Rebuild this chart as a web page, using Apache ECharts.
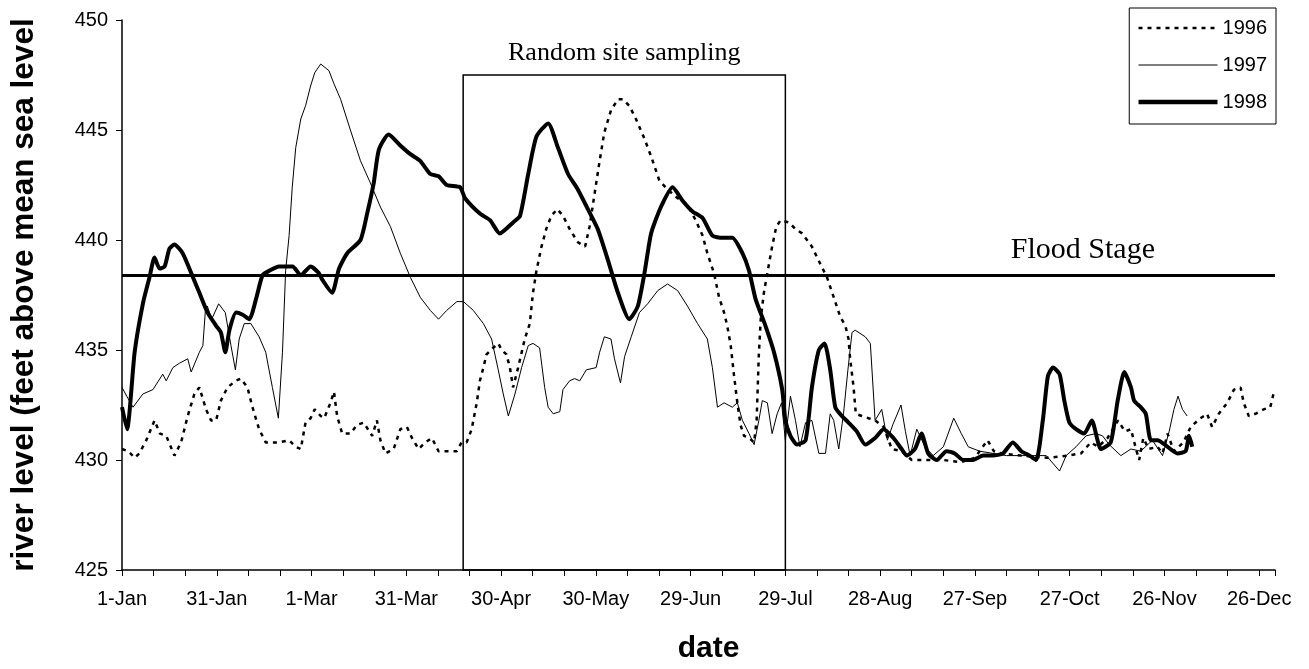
<!DOCTYPE html>
<html>
<head>
<meta charset="utf-8">
<title>River level</title>
<script src="https://cdn.jsdelivr.net/npm/echarts@6/dist/echarts.min.js"></script>
<style>
  html, body { margin: 0; padding: 0; background: #fff; }
  #chart { width: 1309px; height: 669px; }
</style>
</head>
<body>
<div id="chart"></div>
<script>
// day of year (0 = 1-Jan) vs river level
const level1996 = [
  [0,430.5],[2,430.4],[4,430.1],[5.5,430.3],[7.7,430.9],[10.3,431.8],[12,431.2],[14,431.1],[16.6,430.2],[18.7,430.8],
  [20.8,432],[22.9,433],[24.5,433.3],[26.6,432.3],[28.2,431.8],[29.8,431.8],[31.3,432.7],[33.4,433.3],[36,433.6],[37.6,433.7],
  [39.7,433.3],[41.3,432.4],[43.4,431.4],[45.5,430.8],[49.7,430.8],[52.9,430.9],[55,430.6],[56.6,430.5],[58.1,431.7],[59.7,431.9],
  [61,432.3],[62.9,432],[64,431.9],[66,432.6],[67.1,433.1],[68.1,432],[69.7,431.2],[72.3,431.2],[74.4,431.6],[76.5,431.7],
  [79.2,431.1],[80.7,431.8],[81.8,430.9],[83.4,430.3],[86,430.5],[88.1,431.4],[90.2,431.5],[91.8,431],[93.9,430.5],[96,430.8],
  [98.1,431],[100.2,430.4],[106,430.4],[107.5,430.8],[109.1,430.8],[110.7,431.4],[112.3,432.6],[113.3,433.6],[114.4,434.2],[115.4,434.8],
  [117.5,435.1],[119.1,435.3],[120.2,435],[121.7,434.8],[122.8,434.2],[123.8,433.3],[125.4,434.2],[127.5,435.5],[129.1,436.2],[130.1,437.6],
  [131.2,438.6],[132.8,439.7],[134.3,440.5],[135.9,441.1],[137.8,441.4],[139.6,441.1],[141.7,440.5],[144.3,439.9],[146.6,439.7],[148,440.6],
  [149.6,442.1],[151.2,443.6],[152.7,444.9],[154.8,445.9],[157,446.4],[158.5,446.4],[160.6,446.1],[162.7,445.5],[165.4,444.6],[167.5,443.8],
  [170.1,442.7],[172.7,442.3],[175.9,441.9],[179,441.6],[181.6,440.9],[183.8,440.2],[185.3,439.4],[187.4,438.5],[189,437.4],[190.6,436.7],
  [191.6,436.1],[192.7,435.2],[193.7,433.9],[194.8,432.6],[195.8,431.6],[196.9,431.1],[198.5,431],[200.1,430.8],[200.9,431.8],[201.6,434.8],
  [202.2,436.4],[203.2,437.6],[204.3,438.5],[205.8,439.7],[207.1,440.6],[208.5,440.9],[211.1,440.8],[213.2,440.5],[215.3,440.3],[218.4,439.7],
  [221.1,438.9],[223.2,438.3],[225.3,437.4],[227.4,436.5],[229,436.1],[230,435.5],[230.5,434.6],[231.6,433.3],[232.3,432.1],[234.2,432],
  [236.3,431.9],[238.4,431.8],[241.1,431.5],[243.7,430.5],[246.8,430.4],[250,430],[255,430],[260,430],[265.5,429.9],[270,430.1],
  [274,430.9],[276,430.4],[278.4,430.3],[284.6,430.2],[293,430.1],[299.4,430.2],[303.6,430.3],[306.7,430.8],[309,430.6],[312,431],
  [315.3,431.8],[317.5,431.3],[319.4,431.4],[321,430.5],[322,430],[323.3,431],[325,430.5],[327.8,430.6],[329.4,430.3],[331,431.2],
  [333,430.4],[336,430.8],[338.3,431.5],[341.4,431.9],[343.5,432.1],[345.1,431.5],[347.2,432.1],[349.9,432.6],[352,433.2],[354.1,433.3],
  [355.1,432.6],[356.7,432],[358.8,432.1],[361.4,432.3],[363.5,432.4],[364.5,433]
];

const level1997 = [
  [0,433.3],[1.5,432.9],[3.5,432.4],[6.6,433],[9.8,433.2],[12.9,433.9],[14,433.6],[16.1,434.2],[18.2,434.4],[20.8,434.6],
  [21.9,434],[24.5,434.9],[25.6,435.2],[26.4,436.8],[27,437],[28.4,436.4],[30.6,437.1],[32.7,436.7],[34.5,435.2],[35.9,434.1],
  [37.1,435.5],[38.7,436.2],[40.8,436.2],[43.4,435.6],[45.5,434.9],[47.6,433.3],[49.5,431.9],[50.8,434.9],[51.8,438.6],[52.9,440.2],
  [53.9,442.4],[55,444.2],[56.6,445.5],[58.1,446.1],[59.7,447],[61,447.6],[62.9,448],[65.5,447.7],[67.1,447.1],[69.2,446.4],
  [72.3,445],[75.5,443.6],[78.6,442.6],[81.8,441.5],[85,440.6],[88.1,439.4],[91.3,438.3],[94.4,437.4],[97.6,436.8],[100.2,436.4],
  [102.8,436.8],[106,437.2],[108.1,437.2],[111.2,436.8],[114.4,436.2],[117,435.5],[119.1,434.1],[120.7,433],[122.3,432],[124.4,433],
  [126.5,434.2],[128.6,435.2],[130.1,435.3],[132.2,435.1],[133.8,433.3],[134.9,432.4],[136.5,432.1],[138.6,432.2],[139.6,433.2],[141.7,433.6],
  [143.3,433.7],[144.9,433.6],[147,434.1],[150.1,434.2],[151.2,434.9],[152.7,435.6],[154.8,435.5],[155.9,434.6],[157.8,433.5],[159.1,434.7],
  [161.2,435.6],[163.8,436.7],[166.4,437.1],[169.6,437.7],[172.7,438],[175.9,437.7],[179,437],[182.2,436.2],[185.3,435.5],[186.9,434.2],
  [188.5,432.4],[190.6,432.6],[193.2,432.4],[194.8,432.6],[196.4,431.8],[198.5,431.2],[200.1,430.7],[201.6,431.8],[202.7,432.7],[204.3,432.6],
  [205.8,431.2],[207.4,432.1],[208.8,432.6],[210,430.9],[211.6,432.9],[213.2,431.8],[214.6,430.6],[216.4,431.7],[218.4,431.8],[220.6,430.3],
  [222.7,430.3],[224.2,432.1],[225.3,431.8],[226.9,430.5],[228.4,432.1],[229.8,434.1],[231.1,435.8],[232.1,435.9],[235.3,435.6],[236.9,435.3],
  [238.4,431.8],[240.5,432.3],[242.3,430.9],[244,431.6],[246.6,432.5],[248,431.3],[249.5,430.2],[251.6,431.4],[254.2,430.6],[256.8,430.2],
  [260,430.6],[263.3,431.9],[265.7,431.2],[267.9,430.6],[271.5,430.4],[275.7,430.3],[280,430.2],[285.2,430.2],[289,430.2],[292.6,430.2],
  [296.8,429.5],[298.9,430.2],[302,430.6],[305.2,431.1],[308.3,431.2],[310.4,431.1],[312.5,430.7],[316.2,430.2],[319.4,430.5],[322.5,430.4],
  [326.2,430.9],[329.4,430.2],[331.5,431.3],[333,432.3],[334.3,432.9],[335.7,432.3],[337.2,432]
];

const level1998 = [
  [0,432.4],[1.6,431.4],[4,434.9],[6.6,437.1],[8.7,438.3],[10.3,439.2],[11.9,438.7],[13.5,438.8],[15,439.6],[16.6,439.8],
  [19.2,439.4],[21.9,438.5],[24.5,437.6],[27.1,436.7],[29.8,436.1],[31.3,435.8],[32.7,434.9],[34,435.9],[36.1,436.7],[38.2,436.6],
  [40.3,436.4],[42.4,437.3],[44.5,438.4],[46.6,438.6],[49.7,438.8],[54,438.8],[56.6,438.4],[59.7,438.8],[62.3,438.5],[63.4,438.2],
  [66.5,437.6],[68.7,438.7],[71.3,439.4],[75.5,440],[77.6,441.2],[79.7,442.6],[81.3,444.1],[84.4,444.8],[88.1,444.3],[91.3,443.9],
  [94.4,443.6],[97.6,443],[100.2,442.9],[102.8,442.5],[107,442.4],[108.6,441.9],[113.3,441.2],[116.5,440.9],[119.6,440.3],[123.8,440.8],
  [126,441.1],[128.6,443],[131.2,444.7],[134.9,445.3],[138,444.2],[141.2,443],[144.3,442.3],[147.5,441.4],[150.6,440.5],[153.8,439.1],
  [157,437.6],[160.6,436.4],[163.3,437],[165.4,438.5],[167.5,440.3],[170.6,441.5],[174.3,442.4],[177.4,441.8],[180.6,441.3],[183.8,441],
  [186.9,440.2],[190.1,440.1],[193.2,440.1],[196.4,439.4],[198.5,438.6],[200.6,437.3],[203.7,436.1],[206.4,434.9],[209,433.2],[210,431.8],
  [211.6,431.1],[213.7,430.7],[216.4,430.9],[218.4,433.3],[220.6,435],[222.4,435.3],[224.2,434.1],[225.8,432.4],[227.9,432],[230,431.7],
  [232.6,431.3],[235.3,430.7],[238.4,431],[241.1,431.4],[244.2,431],[246.8,430.5],[248.4,430.2],[251,430.5],[253.1,431.2],[255.2,430.3],
  [257.9,430],[261,430.4],[263.6,430.3],[266.3,430],[269.4,430],[272.6,430.2],[275.7,430.2],[278.9,430.3],[282,430.8],[284.7,430.4],
  [287.3,430.2],[289.4,430],[291.5,431.8],[293.1,433.8],[294.7,434.2],[296.8,433.9],[298.3,432.7],[299.9,431.7],[302,431.4],[304.6,431.2],
  [307,431.8],[309.9,430.5],[313,430.8],[315.2,432.7],[317.3,434],[319.4,433.3],[320.4,432.7],[322.5,432.4],[324.1,432.1],[325.7,430.9],
  [327.8,430.9],[331,430.6],[334.1,430.3],[336.7,430.4],[337.8,431.1],[338.8,430.6]
];

// x tick labels, one every 30 days starting 1-Jan
const dateLabels = ['1-Jan', '31-Jan', '1-Mar', '31-Mar', '30-Apr', '30-May', '29-Jun',
  '29-Jul', '28-Aug', '27-Sep', '27-Oct', '26-Nov', '26-Dec'];

const floodStage = 438.4;
const samplingStart = 108;   // day the sampling box starts
const samplingEnd = 210;
const samplingTop = 447.5;

const chart = echarts.init(document.getElementById('chart'));

const sans = 'Liberation Sans, Arial, sans-serif';
const serif = 'Liberation Serif, Times New Roman, serif';

const option = {
  backgroundColor: '#fff',
  animation: false,
  grid: { left: 117, right: 34, top: 20, bottom: 98 },
  legend: {
    orient: 'vertical',
    right: 33,
    top: 8,
    padding: [10, 9, 12, 7],
    itemGap: 17,
    itemWidth: 79,
    itemHeight: 14,
    borderColor: '#000',
    borderWidth: 1,
    // hide the marker dot, keep only the line sample
    itemStyle: { opacity: 0 },
    textStyle: { fontFamily: sans, fontSize: 20, color: '#000' },
    data: [
      { name: '1996', lineStyle: { width: 2.5, type: [4, 5] } },
      { name: '1997', lineStyle: { width: 1 } },
      { name: '1998', lineStyle: { width: 4.5 } }
    ]
  },
  xAxis: {
    type: 'value',
    min: 0,
    max: 365,
    interval: 10,
    name: 'date',
    nameLocation: 'middle',
    nameGap: 64,
    nameTextStyle: { fontFamily: sans, fontSize: 30, fontWeight: 'bold', color: '#000', padding: [0, 0, 0, 20] },
    axisLine: { lineStyle: { color: '#000', width: 1.5 } },
    axisTick: { length: 6, lineStyle: { color: '#000' } },
    splitLine: { show: false },
    axisLabel: {
      margin: 19,
      fontFamily: sans,
      fontSize: 20,
      color: '#000',
      formatter: v => (v % 30 === 0 ? dateLabels[v / 30] : '')
    }
  },
  yAxis: {
    type: 'value',
    min: 425,
    max: 450,
    interval: 5,
    name: 'river level (feet above mean sea level',
    nameLocation: 'middle',
    nameGap: 82,
    nameTextStyle: { fontFamily: sans, fontSize: 31.5, fontWeight: 'bold', color: '#000' },
    axisLine: { show: true, lineStyle: { color: '#000', width: 1.5 } },
    axisTick: { show: true, length: 6, lineStyle: { color: '#000' } },
    splitLine: { show: false },
    axisLabel: { margin: 14, fontFamily: sans, fontSize: 20, color: '#000' }
  },
  series: [
    {
      name: '1996',
      type: 'line',
      data: level1996,
      symbol: 'none',
      lineStyle: { color: '#000', width: 2.5, type: [4, 5] },
      itemStyle: { color: '#000' },
      z: 3
    },
    {
      name: '1997',
      type: 'line',
      data: level1997,
      symbol: 'none',
      lineStyle: { color: '#000', width: 1 },
      itemStyle: { color: '#000' },
      z: 2
    },
    {
      name: '1998',
      type: 'line',
      data: level1998,
      symbol: 'none',
      smooth: 0.2,
      lineStyle: { color: '#000', width: 4 },
      itemStyle: { color: '#000' },
      z: 4,
      markLine: {
        silent: true,
        symbol: 'none',
        lineStyle: { color: '#000', width: 3, type: 'solid' },
        label: {
          position: 'insideEndTop',
          distance: [120, 10],
          formatter: 'Flood Stage',
          fontFamily: serif,
          fontSize: 30,
          color: '#000'
        },
        data: [{ yAxis: floodStage }]
      },
      markArea: {
        silent: true,
        itemStyle: { color: 'rgba(0,0,0,0)', borderColor: '#000', borderWidth: 1.5 },
        label: {
          show: true,
          position: 'top',
          distance: 8,
          fontFamily: serif,
          fontSize: 26,
          color: '#000'
        },
        data: [[
          { name: 'Random site sampling', xAxis: samplingStart, yAxis: 425 },
          { xAxis: samplingEnd, yAxis: samplingTop }
        ]]
      }
    }
  ]
};

chart.setOption(option);
window.addEventListener('resize', () => chart.resize());
</script>
</body>
</html>
